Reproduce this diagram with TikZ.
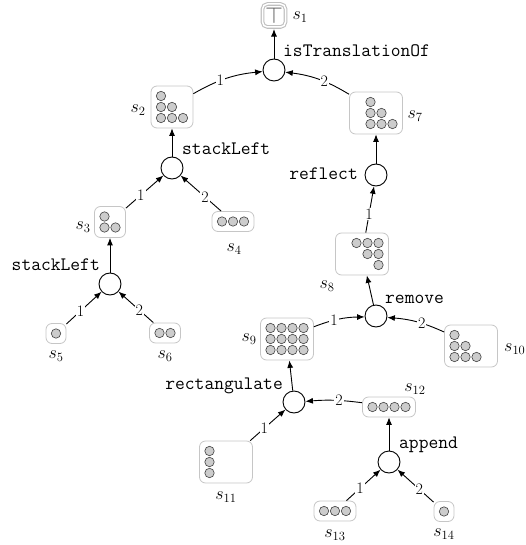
\RequirePackage{fix-cm}
\documentclass[tikz,border=0pt]{standalone}
\usetikzlibrary{arrows.meta}
\newcommand{\monofont}{\fontsize{19}{22}\selectfont\ttfamily}
\newcommand{\labfont}{\fontsize{16}{19}\selectfont}
\newcommand{\slabfont}{\fontsize{18}{21}\selectfont}
\tikzset{
  conn/.style={-{Latex[length=7.5pt,width=6pt]}, line width=0.9pt},
  elab/.style={font=\labfont, fill=white, inner sep=1pt, pos=0.4},
  op/.style={circle, draw, line width=0.9pt, minimum size=22pt, inner sep=0pt},
  dbox/.style={draw=gray!45, rounded corners=6pt, line width=0.8pt, fill=white, inner sep=0pt},
  dotst/.style={fill=gray!40, draw=black!75, line width=0.6pt},
  oplab/.style={font=\monofont, inner sep=0pt},
  slab/.style={font=\slabfont, inner sep=0pt},
  topbox/.style={draw=gray!50, double=white, double distance=1.5pt, line width=1.1pt,
    rounded corners=5pt, minimum size=23pt, inner sep=0pt,
    font=\fontsize{23}{27}\selectfont, text=black!65}
}
% name, position, cols, rows, dot list c/r
\newcommand{\dotbox}[5]{%
  \node[dbox, minimum width={#3*11pt+9pt}, minimum height={#4*11pt+9pt}] (#1) at (#2) {};
  \foreach \c/\r in {#5}{%
    \draw[dotst] (#1.center) ++({(\c-(#3+1)/2)*11},{-(\r-(#4+1)/2)*11}) circle[radius=4.7];
  }%
}
\begin{document}
\begin{tikzpicture}[x=1pt,y=1pt]
\useasboundingbox (0,0) rectangle (525,-545);

% top element
\node[topbox] (s1) at (274,-15.5) {$\top$};

% data boxes
\dotbox{s2}{172,-107}{3}{3}{1/1,1/2,2/2,1/3,2/3,3/3}
\dotbox{s3}{110,-222}{2}{2}{1/1,1/2,2/2}
\dotbox{s4}{233,-221.5}{3}{1}{1/1,2/1,3/1}
\dotbox{s5}{56,-333.5}{1}{1}{1/1}
\dotbox{s6}{165,-333}{2}{1}{1/1,2/1}
\dotbox{s7}{376,-113}{4}{3}{2/1,2/2,3/2,2/3,3/3,4/3}
\dotbox{s8}{362,-254}{4}{3}{2/1,3/1,4/1,3/2,4/2,4/3}
\dotbox{s9}{287,-339}{4}{3}{1/1,2/1,3/1,4/1,1/2,2/2,3/2,4/2,1/3,2/3,3/3,4/3}
\dotbox{s10}{471,-346}{4}{3}{1/1,1/2,2/2,1/3,2/3,3/3}
\dotbox{s11}{226,-462}{4}{3}{1/1,1/2,1/3}
\dotbox{s12}{389,-407}{4}{1}{1/1,2/1,3/1,4/1}
\dotbox{s13}{335,-511}{3}{1}{1/1,2/1,3/1}
\dotbox{s14}{444,-511.5}{1}{1}{1/1}

% state labels
\node[slab] (l1) at (300,-17) {$s_{1}$};
\node[slab] (l2) at (138,-110) {$s_{2}$};
\node[slab] (l3) at (83,-227) {$s_{3}$};
\node[slab] (l4) at (234,-249) {$s_{4}$};
\node[slab] (l5) at (56,-356) {$s_{5}$};
\node[slab] (l6) at (165,-356) {$s_{6}$};
\node[slab] (l7) at (415,-116) {$s_{7}$};
\node[slab] (l8) at (327,-286) {$s_{8}$};
\node[slab] (l9) at (249,-339) {$s_{9}$};
\node[slab, anchor=west] (l10) at (504,-349) {$s_{10}$};
\node[slab] (l11) at (226,-497) {$s_{11}$};
\node[slab] (l12) at (415,-389) {$s_{12}$};
\node[slab] (l13) at (335,-535) {$s_{13}$};
\node[slab] (l14) at (444,-534) {$s_{14}$};

% operation nodes
\node[op] (c1) at (274,-70) {};
\node[op] (c2) at (172,-168) {};
\node[op] (c3) at (110,-284) {};
\node[op] (c4) at (376,-175) {};
\node[op] (c5) at (376,-316) {};
\node[op] (c6) at (294,-402) {};
\node[op] (c7) at (389,-462) {};

% operation labels
\node[oplab, anchor=base west] (o1) at (283,-57) {isTranslationOf};
\node[oplab, anchor=base west] (o2) at (182,-155) {stackLeft};
\node[oplab, anchor=base east] (o3) at (100,-270) {stackLeft};
\node[oplab, anchor=base east] (o4) at (358,-180) {reflect};
\node[oplab, anchor=base west] (o5) at (385,-303) {remove};
\node[oplab, anchor=base east] (o6) at (283,-389) {rectangulate};
\node[oplab, anchor=base west] (o7) at (399,-448) {append};

% connectors
\draw[conn, shorten >=1.5pt] (c1) -- (s1);
\draw[conn] (s2) to[bend left=12] node[elab]{1} (c1);
\draw[conn] (s7) to[bend right=12] node[elab]{2} (c1);
\draw[conn] (c2) -- (s2);
\draw[conn] (s3) -- node[elab]{1} (c2);
\draw[conn] (s4) -- node[elab]{2} (c2);
\draw[conn] (c3) -- (s3);
\draw[conn] (s5) -- node[elab]{1} (c3);
\draw[conn] (s6) -- node[elab]{2} (c3);
\draw[conn] (c4) -- (s7);
\draw[conn] (s8) -- node[elab]{1} (c4);
\draw[conn] (c5) -- (s8);
\draw[conn] (s9) to[bend left=10] node[elab]{1} (c5);
\draw[conn] (s10) to[bend right=10] node[elab]{2} (c5);
\draw[conn] (c6) -- (s9);
\draw[conn] (s11) -- node[elab]{1} (c6);
\draw[conn] (s12) to[bend right=6] node[elab]{2} (c6);
\draw[conn] (c7) -- (s12);
\draw[conn] (s13) -- node[elab]{1} (c7);
\draw[conn] (s14) -- node[elab]{2} (c7);
\end{tikzpicture}
\end{document}
